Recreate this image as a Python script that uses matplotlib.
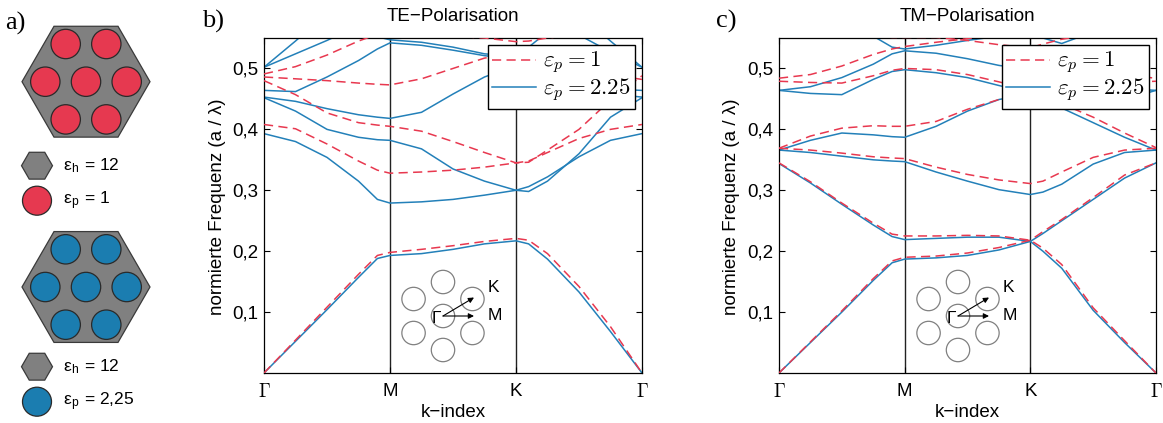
import numpy as np
import matplotlib
matplotlib.use("Agg")
import matplotlib.pyplot as plt
from matplotlib.patches import RegularPolygon, Circle

plt.rcParams["font.family"] = ["Liberation Sans", "DejaVu Sans"]
plt.rcParams["mathtext.fontset"] = "cm"

W, H = 1163, 423
nan = np.nan

# k path Γ-M-K-Γ (equal point spacing per segment, as in the original)
K_PATH = [0, 0.25, 0.5, 0.75, 0.9, 1.0, 1.25, 1.5, 1.75, 2.0, 2.1, 2.25, 2.5, 2.75, 3.0]
K_TICKS = [0, 1, 2, 3]
K_LABELS = [r"$\Gamma$", "M", "K", r"$\Gamma$"]
Y_TICKS = [0.1, 0.2, 0.3, 0.4, 0.5]
Y_LABELS = ["0,1", "0,2", "0,3", "0,4", "0,5"]

# TE, eps_p = 1 (red dashed)
TE_EPS1 = [
    [0, .054, .108, .162, .193, .198, .203, .209, .216, .221, .218, .196, .142, .076, 0],
    [.408, .401, .376, .348, .333, .328, .330, .333, .338, .345, .348, .362, .385, .400, .408],
    [.480, .457, .427, .411, .407, .405, .397, .380, .362, .345, .346, .366, .400, .448, .488],
    [.486, .483, .480, .476, .474, .473, .483, .500, .517, .525, .525, .520, .505, .490, .482],
    [.491, .503, .522, .545, .556, nan, nan, nan, nan, nan, nan, nan, nan, nan, nan],
    [nan, nan, nan, nan, nan, nan, .556, .553, .550, .544, .545, .550, .556, nan, nan],
]
# TE, eps_p = 2.25 (blue solid)
TE_EPS225 = [
    [0, .052, .104, .157, .188, .193, .196, .203, .212, .217, .212, .187, .133, .068, 0],
    [.393, .380, .354, .315, .285, .279, .281, .285, .292, .300, .298, .315, .360, .420, .452],
    [.452, .430, .400, .387, .383, .382, .368, .335, .315, .300, .306, .322, .355, .382, .393],
    [.453, .446, .434, .424, .420, .418, .428, .458, .486, .505, .500, .490, .472, .458, .453],
    [.464, .462, .486, .513, .532, .542, .538, .530, .521, .515, .510, .495, .476, .466, .464],
    [.502, .545, .590, nan, nan, nan, nan, nan, nan, nan, nan, nan, nan, nan, nan],
    [.502, .524, .546, .570, nan, nan, nan, nan, nan, nan, nan, nan, nan, nan, nan],
    [nan, nan, nan, .565, .552, .547, .543, .535, .524, .520, .535, .560, nan, nan, nan],
    [nan, nan, nan, nan, nan, nan, nan, nan, nan, nan, nan, nan, .555, .527, .502],
    [nan, nan, nan, nan, nan, nan, nan, nan, nan, nan, nan, nan, .590, .545, .502],
]
# TM, eps_p = 1 (red dashed)
TM_EPS1 = [
    [0, .051, .102, .155, .184, .190, .192, .197, .206, .218, .232, .252, .288, .325, .345],
    [.345, .314, .279, .246, .228, .225, .225, .226, .225, .218, .205, .178, .107, .053, 0],
    [.369, .366, .361, .355, .353, .352, .338, .326, .317, .311, .315, .330, .354, .366, .369],
    [.369, .389, .402, .406, .405, .405, .413, .433, .449, .460, .453, .442, .420, .394, .370],
    [.479, .477, .476, .488, .497, .500, .498, .490, .478, .465, .466, .470, .474, .477, .479],
    [.484, .490, .504, .523, .532, .536, .543, .549, .556, nan, nan, nan, nan, nan, nan],
    [nan, nan, nan, .553, .551, .551, .551, .546, .539, .534, .540, .548, .556, nan, nan],
    [nan, nan, nan, nan, nan, nan, nan, nan, nan, .530, .525, .515, .500, .489, .484],
]
# TM, eps_p = 2.25 (blue solid)
TM_EPS225 = [
    [0, .050, .100, .152, .181, .187, .189, .193, .202, .216, .229, .250, .285, .320, .345],
    [.344, .312, .277, .243, .224, .219, .221, .223, .223, .216, .200, .172, .103, .050, 0],
    [.366, .362, .356, .350, .348, .347, .330, .315, .301, .293, .297, .310, .343, .362, .366],
    [.366, .382, .394, .391, .388, .387, .405, .430, .449, .458, .449, .435, .411, .387, .366],
    [.464, .459, .457, .482, .495, .498, .493, .485, .472, .460, .458, .456, .453, .449, .464],
    [.464, .470, .485, .507, .524, .529, .525, .516, .505, .498, .494, .488, .476, .467, .464],
    [nan, nan, nan, .553, .535, .532, .538, .546, .553, nan, nan, nan, nan, nan, nan],
    [nan, nan, nan, nan, nan, nan, nan, nan, nan, .556, .550, .541, .560, nan, nan],
]

RED = "#e8384f"
BLUE = "#2380b9"
GRAY = "#808080"
FILL_RED = "#e63950"
FILL_BLUE = "#1b7db0"
FS = 13.5

fig = plt.figure(figsize=(W / 100, H / 100), dpi=100)


def px_axes(x0, y0, w, h):
    # axes whose data units are figure pixels (y pointing down)
    ax = fig.add_axes([x0 / W, 1 - (y0 + h) / H, w / W, h / H], zorder=5)
    ax.set_xlim(x0, x0 + w)
    ax.set_ylim(y0 + h, y0)
    ax.axis("off")
    ax.patch.set_alpha(0)
    return ax


def band_panel(x0, w, red_bands, blue_bands, title, letter, letter_x):
    ax = fig.add_axes([x0 / W, 50 / H, w / W, 335 / H])
    for b in blue_bands:
        ax.plot(K_PATH, b, color=BLUE, lw=1.1, zorder=2)
    for b in red_bands:
        ax.plot(K_PATH, b, color=RED, lw=1.1, dashes=(6, 3.5), zorder=3)
    for k in (1, 2):
        ax.axvline(k, color="#222222", lw=1.0, zorder=1.5)
    ax.set_xlim(0, 3)
    ax.set_ylim(0, 0.55)
    ax.set_xticks(K_TICKS)
    ax.set_xticklabels(K_LABELS)
    ax.set_yticks(Y_TICKS)
    ax.set_yticklabels(Y_LABELS)
    ax.tick_params(direction="in", length=4, width=0.8, top=True, right=True,
                   labelsize=FS)
    ax.tick_params(axis="x", pad=7)
    ax.tick_params(axis="y", pad=4)
    for s in ax.spines.values():
        s.set_linewidth(0.9)
    h_red = ax.lines[len(blue_bands)]
    h_blue = ax.lines[0]
    leg = ax.legend([h_red, h_blue], [r"$\varepsilon_p = 1$", r"$\varepsilon_p = 2.25$"],
                    loc="upper right", bbox_to_anchor=(1 - 7 / w, 1 - 7 / 335),
                    borderaxespad=0, fontsize=16.5, fancybox=False, framealpha=1,
                    edgecolor="black", handlelength=1.9, handletextpad=0.3,
                    borderpad=0.2, labelspacing=0.02)
    leg.get_frame().set_linewidth(1.0)
    leg.set_zorder(6)

    cx = x0 + w / 2
    fig.text(cx / W, 1 - 16.7 / H, title, ha="center", va="center", fontsize=FS)
    fig.text(cx / W, 1 - 412 / H, "k\u2212index", ha="center", va="center", fontsize=FS)
    fig.text((x0 - 47) / W, 1 - 206.7 / H, "normierte Frequenz (a / \u03bb)",
             rotation=90, ha="center", va="center", fontsize=FS)
    fig.text(letter_x / W, 1 - 21 / H, letter, ha="left", va="center",
             fontsize=19, family="Liberation Serif")

    # small real-space sketch with Γ-M and Γ-K directions
    bx, by = x0 + 179, 316
    ia = px_axes(bx - 50, by - 50, 120, 100)
    d = 34
    for dx, dy in [(0, 0), (0, -d), (0, d), (-0.866 * d, -d / 2), (0.866 * d, -d / 2),
                   (-0.866 * d, d / 2), (0.866 * d, d / 2)]:
        ia.add_patch(Circle((bx + dx, by + dy), 11.7, fill=False, ec=GRAY, lw=0.9))
    ap = dict(arrowstyle="-|>", lw=0.8, color="black", mutation_scale=8,
              shrinkA=0, shrinkB=0)
    ia.annotate("", xy=(bx + 31, by - 18.5), xytext=(bx, by), arrowprops=ap)
    ia.annotate("", xy=(bx + 31, by), xytext=(bx, by), arrowprops=ap)
    ia.text(bx - 6.5, by + 2, "\u0393", ha="center", va="center", fontsize=12.5)
    ia.text(bx + 50.5, by - 28.5, "K", ha="center", va="center", fontsize=12.5)
    ia.text(bx + 51.5, by - 0.5, "M", ha="center", va="center", fontsize=12.5)
    return ax


band_panel(264, 378, TE_EPS1, TE_EPS225, "TE\u2212Polarisation", "b)", 202)
band_panel(779, 377, TM_EPS1, TM_EPS225, "TM\u2212Polarisation", "c)", 716)

# panel a) unit cells
aa = px_axes(0, 0, 185, 423)
fig.text(5 / W, 1 - 23 / H, "a)", ha="left", va="center", fontsize=19,
         family="Liberation Serif")
rod_offsets = [(-20.3, -37.7), (20.3, -37.7), (-40.7, 0), (0, 0), (40.7, 0),
               (-20.3, 37.7), (20.3, 37.7)]
for hy, rod_col, eps_txt, ly in [(81.7, FILL_RED, "1", 165.7),
                                 (287.0, FILL_BLUE, "2,25", 366.7)]:
    aa.add_patch(RegularPolygon((86, hy), 6, radius=64, orientation=np.pi / 6,
                                fc=GRAY, ec="#3a3a3a", lw=0.9))
    for dx, dy in rod_offsets:
        aa.add_patch(Circle((86 + dx, hy + dy), 14.7, fc=rod_col, ec="#2a2a2a", lw=0.9))
    aa.add_patch(RegularPolygon((37, ly), 6, radius=15.5, orientation=np.pi / 6,
                                fc=GRAY, ec="#3a3a3a", lw=0.9))
    aa.add_patch(Circle((37, ly + 35), 14.5, fc=rod_col, ec="#2a2a2a", lw=0.9))
    aa.text(63, ly, r"ε$_\mathregular{h}$ = 12", ha="left", va="center", fontsize=12.5)
    aa.text(63, ly + 35, r"ε$_\mathregular{p}$ = " + eps_txt, ha="left", va="center",
            fontsize=12.5)

fig.savefig("out.png", dpi=100)
